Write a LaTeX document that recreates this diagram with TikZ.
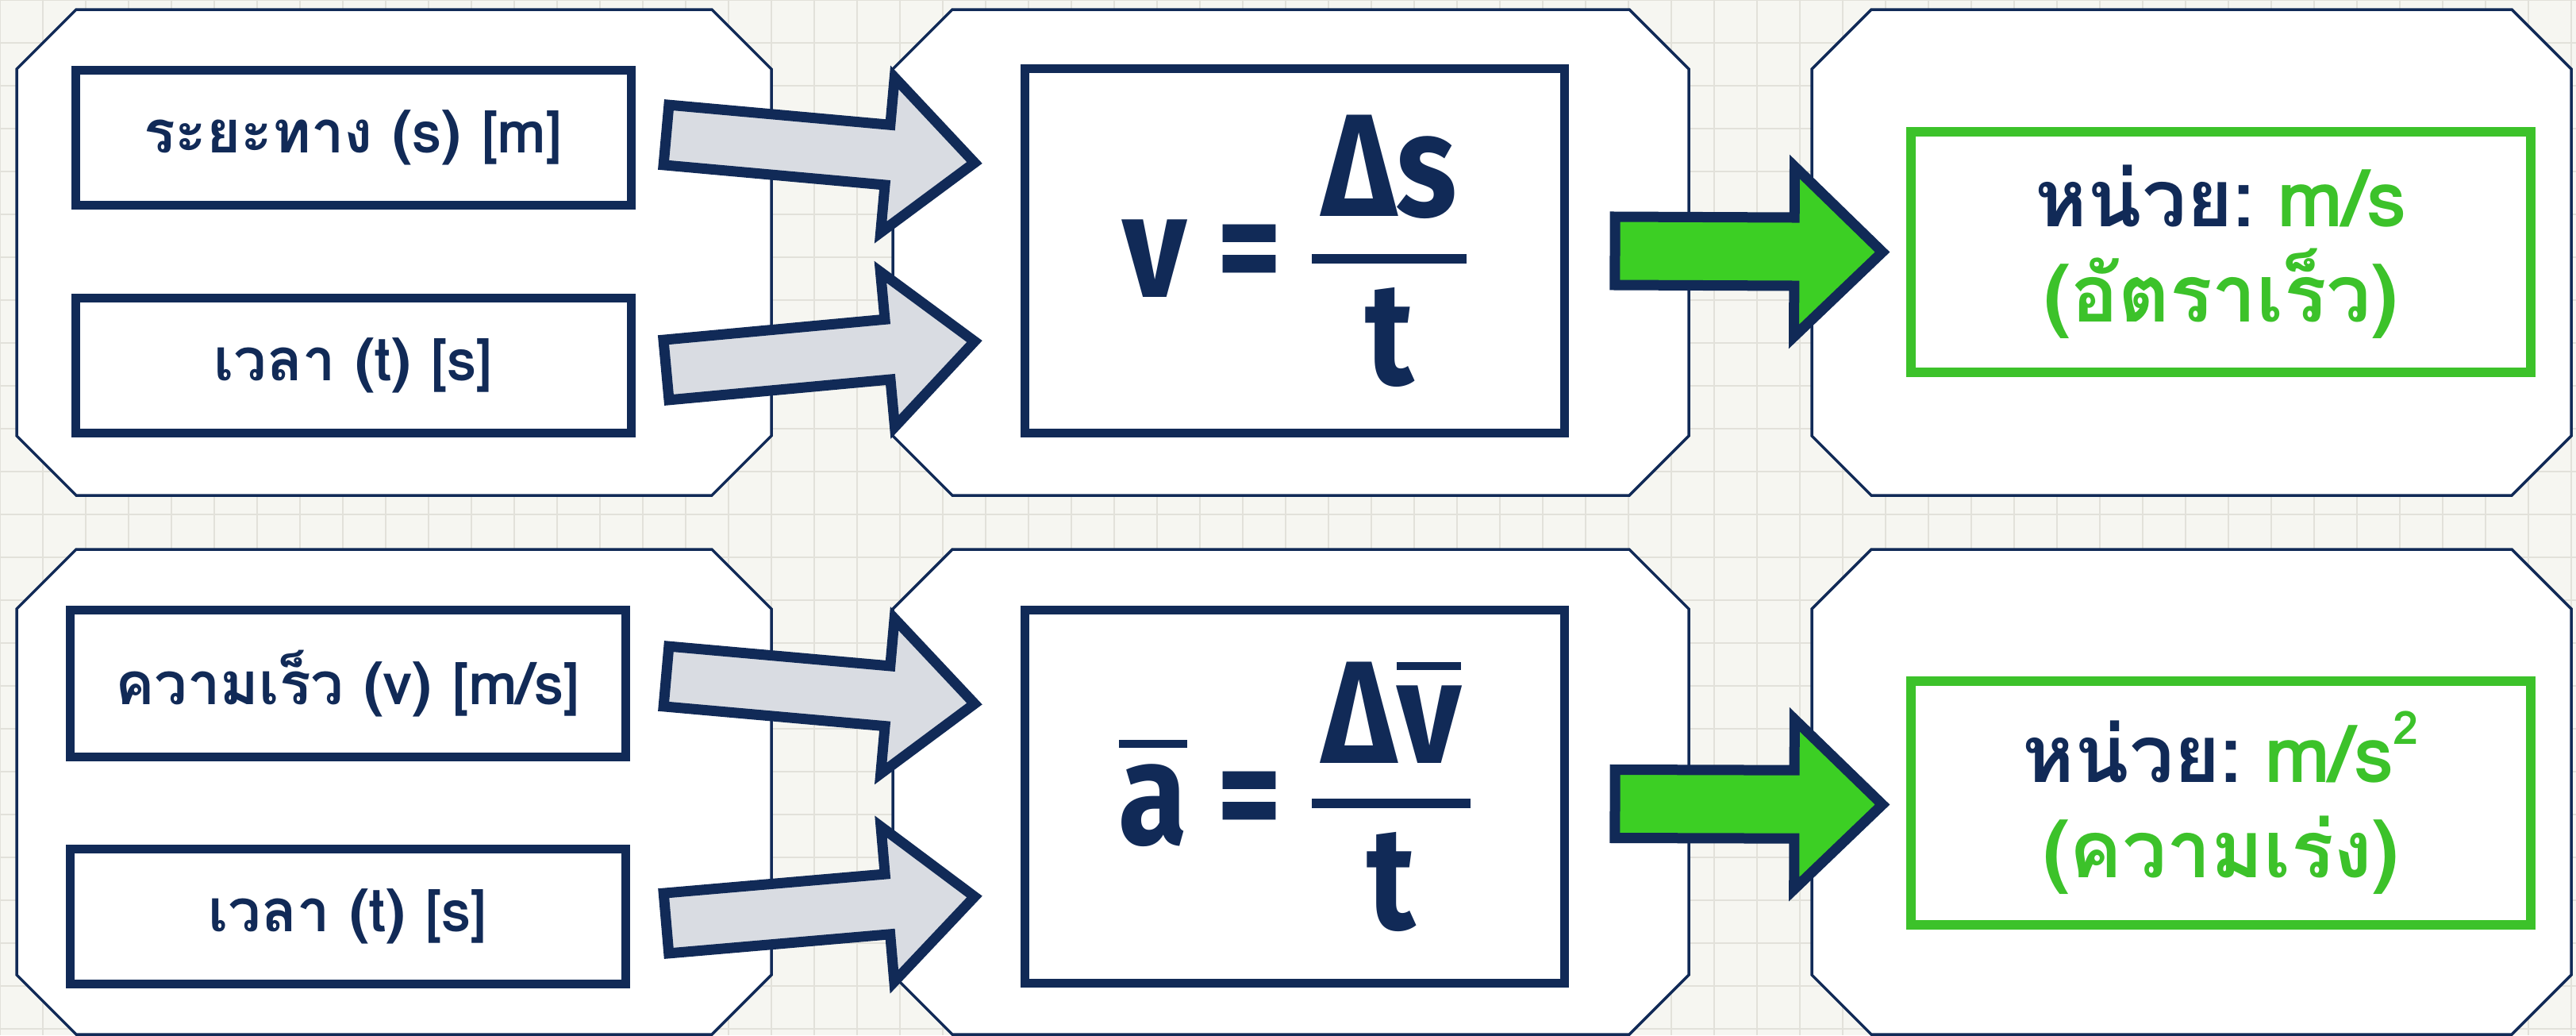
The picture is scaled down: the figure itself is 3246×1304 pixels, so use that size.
\documentclass[tikz,border=0pt]{standalone}
\usepackage{fontspec}
\setmainfont[Script=Thai]{Loma}
\newfontfamily\formfont{Fira Sans}[FakeStretch=0.86]
\usetikzlibrary{calc}

\definecolor{navy}{HTML}{112A57}
\definecolor{arrowgray}{HTML}{D9DCE2}
\definecolor{arrowgreen}{HTML}{3CCF24}
\definecolor{unitgreen}{HTML}{3CC22A}
\definecolor{paper}{HTML}{F6F6F1}
\definecolor{gridcol}{HTML}{E2E1DA}

\tikzset{
  panel/.style={draw=navy, line width=3.5pt, fill=white, line join=miter},
  inbox/.style={draw=navy, line width=11pt, fill=white, minimum width=700pt, minimum height=170pt, inner sep=0pt, text=navy, font=\bfseries\fontsize{74}{80}\selectfont},
  formbox/.style={draw=navy, line width=11pt, fill=white, minimum width=680pt, inner sep=0pt, text=navy, font=\formfont\bfseries\fontsize{184}{190}\selectfont},
  unitbox/.style={draw=unitgreen, line width=12pt, fill=white, minimum width=781pt, inner sep=0pt, align=center, text=unitgreen, font=\bfseries\fontsize{100}{120}\selectfont},
  grayarrow/.style={draw=navy, line width=13pt, fill=arrowgray, line join=miter},
  greenarrow/.style={draw=navy, line width=13pt, fill=arrowgreen, line join=miter},
}

% octagon panel: x1 y1 x2 y2
\newcommand\panelbox[4]{%
  \draw[panel] (#1+75,#2) -- (#3-75,#2) -- (#3,#2+75) -- (#3,#4-75) -- (#3-75,#4) -- (#1+75,#4) -- (#1,#4-75) -- (#1,#2+75) -- cycle;}

% block arrow: style, from, to, shaft half width, head half width, head length
\newcommand\blockarrow[6]{%
  \coordinate (hb) at ($(#3)!#6!(#2)$);
  \draw[#1] ($(#2)!#4!90:(#3)$) -- ($(hb)!#4!-90:(#2)$) -- ($(hb)!#5!-90:(#2)$) -- (#3)
    -- ($(hb)!#5!90:(#2)$) -- ($(hb)!#4!90:(#2)$) -- ($(#2)!#4!-90:(#3)$) -- cycle;}

\newcommand\ovl[1]{\vbox{\hrule height 10pt\kern 20pt\hbox{#1}}}
\newcommand\frc[2]{\raisebox{102pt}{\vtop{\offinterlineskip\halign{\hfil##\hfil\cr\hskip12pt#1\hskip12pt\cr\noalign{\kern45pt\hrule height12pt\kern30pt}#2\cr}}}}
\newcommand\sqr{\raisebox{48pt}{\fontsize{58}{60}\selectfont 2}}

\begin{document}
\begin{tikzpicture}[x=1pt, y=-1pt]
  \useasboundingbox (0,0) rectangle (3246,1304);
  \fill[paper] (0,0) rectangle (3246,1304);
  \draw[gridcol, line width=2pt, step=54pt] (0,0) grid (3246,1304);

  % Draw panels
  \panelbox{21}{12}{972}{624}
  \panelbox{1125}{12}{2128}{624}
  \panelbox{2283}{12}{3240}{624}
  \panelbox{21}{692}{972}{1303}
  \panelbox{1125}{692}{2128}{1303}
  \panelbox{2283}{692}{3240}{1303}

  % Draw input boxes
  \node[inbox] (dist) at (445,173) {ระยะทาง (s) [m]};
  \node[inbox] (time1) at (445,460) {เวลา (t) [s]};
  \node[inbox, minimum height=185pt] (speed) at (438,861) {ความเร็ว (v) [m/s]};
  \node[inbox] (time2) at (438,1154) {เวลา (t) [s]};

  % Draw formulas
  \node[formbox, minimum height=459pt] (vform) at (1631.5,316) {v = \frc{Δs}{t}};
  \node[formbox, minimum height=470pt] (aform) at (1631.5,1003.5) {\ovl{a} = \frc{Δ\ovl{v}}{t}};

  % Draw units
  \node[unitbox, minimum height=303pt] (vunit) at (2798.5,317.5) {{\color{navy}หน่วย:}\hspace{28pt}m/s\\(อัตราเร็ว)};
  \node[unitbox, minimum height=307pt] (aunit) at (2798.5,1011.5) {{\color{navy}หน่วย:}\hspace{28pt}m/s\sqr\\(ความเร่ง)};

  % Draw arrows
  \coordinate (t1) at ([xshift=39pt, yshift=3pt]dist.east);
  \coordinate (t2) at ([xshift=39pt, yshift=-6pt]time1.east);
  \coordinate (h1) at ([xshift=-58pt, yshift=111pt]vform.west);
  \coordinate (h2) at ([xshift=-58pt, yshift=-114pt]vform.west);
  \blockarrow{grayarrow}{t1}{h1}{38pt}{98pt}{110pt}
  \blockarrow{grayarrow}{t2}{h2}{38pt}{98pt}{110pt}

  \coordinate (t3) at ([xshift=46pt, yshift=9pt]speed.east);
  \coordinate (t4) at ([xshift=46pt, yshift=-9pt]time2.east);
  \coordinate (h3) at ([xshift=-58pt, yshift=117pt]aform.west);
  \coordinate (h4) at ([xshift=-58pt, yshift=-126pt]aform.west);
  \blockarrow{grayarrow}{t3}{h3}{38pt}{98pt}{110pt}
  \blockarrow{grayarrow}{t4}{h4}{38pt}{98pt}{110pt}

  \coordinate (g1) at ([xshift=58pt]vform.east);
  \coordinate (u1) at ([xshift=-30pt]vunit.west);
  \blockarrow{greenarrow}{g1}{u1}{43pt}{107pt}{111pt}
  \coordinate (g2) at ([xshift=58pt, yshift=-9pt]aform.east);
  \coordinate (u2) at ([xshift=-30pt, yshift=-2pt]aunit.west);
  \blockarrow{greenarrow}{g2}{u2}{43pt}{107pt}{111pt}
\end{tikzpicture}
\end{document}
